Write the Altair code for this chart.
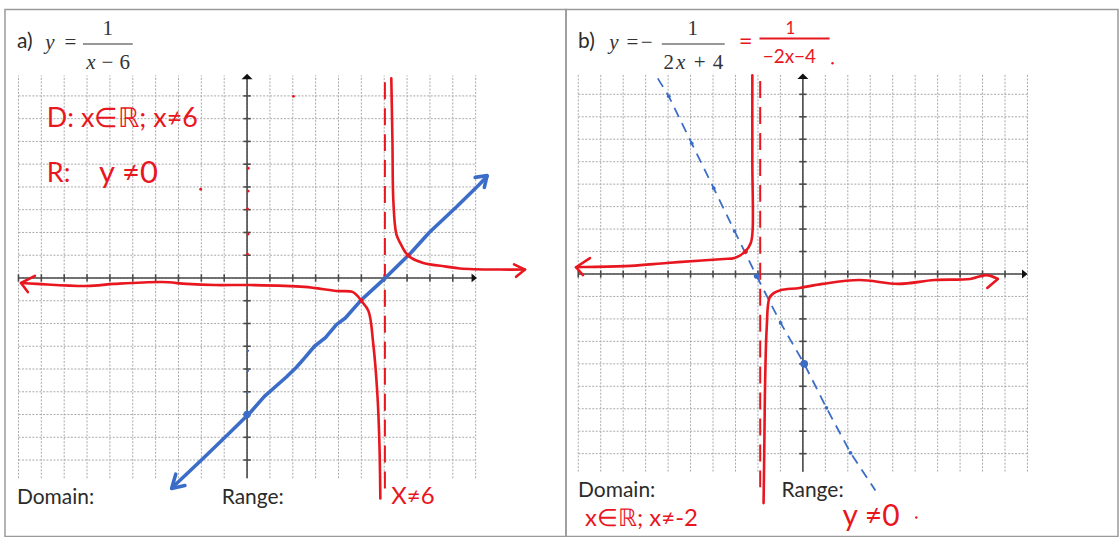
import altair as alt
import pandas as pd

# ---------- scale domains of the two worksheet panels (graph units) ----------
A_XDOM = [-10.59, 13.952]
A_YDOM = [-11.36, 11.798]
B_XDOM = [-10.547, 14.031]
B_YDOM = [-11.689, 11.778]
A_W, B_W, H = 562, 553, 528

# ---------- grid paper ----------
GRID_X = list(range(-10, 11))
GRID_Y = list(range(-8, 9))
GRID_TOP, GRID_BOTTOM = 8.9, -8.8
TICK_X = [v for v in range(-10, 10) if v != 0]
TICK_Y = [v for v in range(-8, 9) if v != 0]

RED = "#e8171f"
BLUE = "#3b6dc8"
GRID = "#aaaaaa"
AXIS = "#4a4a4a"
INK = "#2b2b2b"

# ---------- panel a: y = 1/(x-6), sketched with y = x - 6 ----------
A_BLUE_X = [-3.21, -2.03, -0.76, 0.15, 0.76, 1.72, 2.16, 2.51, 2.95, 3.43, 3.91, 4.30, 5.00, 6.09, 7.18, 7.97, 9.19, 10.15, 10.50]
A_BLUE_Y = [-9.15, -8.03, -6.80, -5.90, -5.20, -4.35, -3.92, -3.52, -3.00, -2.62, -2.05, -1.76, -0.96, 0.04, 1.12, 2.00, 3.15, 4.10, 4.47]
A_BLUE_HEAD_LO_X = [-3.12, -3.30, -2.72]
A_BLUE_HEAD_LO_Y = [-8.62, -9.25, -9.12]
A_BLUE_HEAD_HI_X = [9.98, 10.50, 10.38]
A_BLUE_HEAD_HI_Y = [4.42, 4.50, 3.98]

A_RED_RIGHT_X = [6.31, 6.36, 6.40, 6.53, 6.72, 6.95, 7.18, 7.71, 8.71, 9.32, 11.07, 12.16]
A_RED_RIGHT_Y = [8.77, 6.00, 3.38, 1.93, 1.50, 1.10, 0.88, 0.66, 0.50, 0.42, 0.37, 0.37]
A_RED_LEFT_X = [-9.89, -9.19, -7.00, -5.79, -3.73, -2.64, -1.42, 0.15, 2.51, 3.91, 4.61, 4.83, 5.00, 5.31, 5.52, 5.70, 5.79, 5.83]
A_RED_LEFT_Y = [-0.22, -0.26, -0.35, -0.26, -0.18, -0.26, -0.31, -0.31, -0.39, -0.57, -0.61, -0.79, -1.01, -1.45, -2.89, -5.09, -7.28, -9.69]
A_RED_HEAD_L_X = [-9.28, -9.89, -9.59]
A_RED_HEAD_L_Y = [0.09, -0.22, -0.62]
A_RED_HEAD_R_X = [11.68, 12.16, 11.77]
A_RED_HEAD_R_Y = [0.60, 0.37, 0.05]
A_ASYMPTOTE_X = 6.03
A_ASYMPTOTE_Y = [-9.25, 8.77]

A_BLUE_DOT = (0.0, -6.0)
A_RED_DOTS_X = [7.05, 5.00]
A_RED_DOTS_Y = [1.00, -1.00]
A_RED_SPECKS_X = [2.03, -2.03, 0.05, 0.05, 0.02, 0.05, 0.02]
A_RED_SPECKS_Y = [7.98, 3.90, 4.82, 3.82, 3.03, 1.93, 1.05]
A_BLUE_SPECKS_X = [0.05, 0.05, 0.02]
A_BLUE_SPECKS_Y = [-3.20, -4.08, -5.04]

# ---------- panel b: y = -1/(2x+4), sketched with y = -2x - 4 ----------
B_BLUE_X = [-6.46, -5.97, -4.95, -3.97, -3.04, -2.06, -0.99, 0.06, 1.05, 2.12, 3.23]
B_BLUE_Y = [8.71, 7.91, 5.82, 3.82, 1.91, -0.09, -2.18, -4.00, -5.96, -7.96, -9.64]
B_BLUE_DOTS_X = [-5.97, -4.95, -3.97, -3.04, -0.99, 1.05, 2.12]
B_BLUE_DOTS_Y = [7.91, 5.82, 3.82, 1.91, -2.18, -5.96, -7.96]
B_MID_DOT = (-2.06, -0.09)
B_BIG_DOT = (0.06, -4.00)

B_RED_LEFT_X = [-2.25, -2.25, -2.24, -2.32, -2.55, -3.04, -3.52, -4.50, -6.06, -7.66, -9.70, -10.10]
B_RED_LEFT_Y = [8.85, 5.00, 1.91, 1.38, 1.02, 0.71, 0.67, 0.60, 0.49, 0.36, 0.31, 0.30]
B_RED_RIGHT_X = [-1.75, -1.72, -1.69, -1.61, -1.49, -1.30, -1.00, -0.15, 0.87, 2.52, 4.25, 5.85, 7.45, 8.17, 8.68]
B_RED_RIGHT_Y = [-10.20, -8.00, -5.33, -2.40, -1.07, -0.85, -0.72, -0.62, -0.44, -0.27, -0.44, -0.27, -0.22, -0.05, -0.22]
B_RED_HEAD_L_X = [-9.48, -10.10, -9.79]
B_RED_HEAD_L_Y = [0.71, 0.30, -0.05]
B_RED_HEAD_R_X = [8.68, 8.21]
B_RED_HEAD_R_Y = [-0.22, -0.62]
B_ASYMPTOTE_X = -1.90
B_ASYMPTOTE_Y = [-9.50, 8.80]
B_RED_DOTS_X = [-2.55]
B_RED_DOTS_Y = [1.00]
B_RED_SPECKS_X = [1.32, 5.05]
B_RED_SPECKS_Y = [9.38, -10.84]


def scales(xdom, ydom):
    return (
        alt.Scale(domain=xdom, nice=False, zero=False),
        alt.Scale(domain=ydom, nice=False, zero=False),
    )


def xy(xdom, ydom):
    sx, sy = scales(xdom, ydom)
    return dict(
        x=alt.X("x:Q", scale=sx, axis=None),
        y=alt.Y("y:Q", scale=sy, axis=None),
    )


def rules(df, xdom, ydom, **mark):
    enc = xy(xdom, ydom)
    if "x2" in df.columns:
        enc["x2"] = "x2:Q"
    if "y2" in df.columns:
        enc["y2"] = "y2:Q"
    return alt.Chart(df).mark_rule(**mark).encode(**enc)


def poly(groups):
    rows = []
    for name, (xs, ys) in groups.items():
        for k, (px, py) in enumerate(zip(xs, ys)):
            rows.append({"g": name, "i": k, "x": px, "y": py})
    return pd.DataFrame(rows)


def lines(groups, xdom, ydom, **mark):
    return alt.Chart(poly(groups)).mark_line(**mark).encode(
        **xy(xdom, ydom), detail="g:N", order="i:Q"
    )


def dots(xs, ys, xdom, ydom, **mark):
    df = pd.DataFrame({"x": xs, "y": ys})
    return alt.Chart(df).mark_point(filled=True, opacity=1, **mark).encode(**xy(xdom, ydom))


def texts(items, xdom, ydom, **mark):
    df = pd.DataFrame(items, columns=["t", "x", "y"])
    return alt.Chart(df).mark_text(**mark).encode(**xy(xdom, ydom), text="t:N")


def graph_paper(xdom, ydom, arrow_x, arrow_y):
    n, m = len(GRID_X), len(GRID_Y)
    vert = pd.DataFrame({"x": GRID_X, "y": [GRID_BOTTOM] * n, "y2": [GRID_TOP] * n})
    horiz = pd.DataFrame({"x": [-10] * m, "x2": [10] * m, "y": GRID_Y})
    axes = pd.DataFrame({"x": [-10, 0], "x2": [arrow_x, 0], "y": [0, GRID_BOTTOM], "y2": [0, arrow_y]})
    tx = pd.DataFrame({"x": TICK_X, "y": [-0.16] * len(TICK_X), "y2": [0.16] * len(TICK_X)})
    ty = pd.DataFrame({"x": [-0.16] * len(TICK_Y), "x2": [0.16] * len(TICK_Y), "y": TICK_Y})
    return [
        rules(vert, xdom, ydom, color=GRID, strokeWidth=1, strokeDash=[2, 1.5]),
        rules(horiz, xdom, ydom, color=GRID, strokeWidth=1, strokeDash=[2, 1.5]),
        rules(axes, xdom, ydom, color=AXIS, strokeWidth=1.6),
        rules(tx, xdom, ydom, color=AXIS, strokeWidth=1.6),
        rules(ty, xdom, ydom, color=AXIS, strokeWidth=1.6),
        dots([0], [arrow_y], xdom, ydom, color="#111", size=121,
             shape="M-1,0.5L0,-0.5L1,0.5Z"),
        dots([arrow_x], [0], xdom, ydom, color="#111", size=121,
             shape="M-0.5,-0.8L0.5,0L-0.5,0.8Z"),
    ]


SERIF = dict(font="Liberation Serif", fontSize=21, color="#333", align="center",
             baseline="alphabetic")
LABEL = dict(font="Lato", fontSize=21, color=INK, align="left", baseline="alphabetic")

# ---------------- panel a ----------------
ax, ay = A_XDOM, A_YDOM
panel_a_layers = graph_paper(ax, ay, 9.94, 8.85) + [
    rules(pd.DataFrame({"x": [A_ASYMPTOTE_X], "y": [A_ASYMPTOTE_Y[0]], "y2": [A_ASYMPTOTE_Y[1]]}),
          ax, ay, color=RED, strokeWidth=2, strokeDash=[17, 9]),
    lines({"line": (A_BLUE_X, A_BLUE_Y), "lo": (A_BLUE_HEAD_LO_X, A_BLUE_HEAD_LO_Y),
           "hi": (A_BLUE_HEAD_HI_X, A_BLUE_HEAD_HI_Y)},
          ax, ay, color=BLUE, strokeWidth=3.6, strokeCap="round", strokeJoin="round"),
    lines({"right": (A_RED_RIGHT_X, A_RED_RIGHT_Y), "left": (A_RED_LEFT_X, A_RED_LEFT_Y)},
          ax, ay, color=RED, strokeWidth=2.6, interpolate="catmull-rom",
          strokeCap="round", strokeJoin="round"),
    lines({"hl": (A_RED_HEAD_L_X, A_RED_HEAD_L_Y), "hr": (A_RED_HEAD_R_X, A_RED_HEAD_R_Y)},
          ax, ay, color=RED, strokeWidth=2.6, strokeCap="round", strokeJoin="round"),
    dots([A_BLUE_DOT[0]], [A_BLUE_DOT[1]], ax, ay, color=BLUE, size=55, shape="circle"),
    dots(A_RED_DOTS_X, A_RED_DOTS_Y, ax, ay, color=RED, size=22, shape="circle"),
    dots(A_RED_SPECKS_X, A_RED_SPECKS_Y, ax, ay, color=RED, size=8, shape="circle"),
    dots(A_BLUE_SPECKS_X, A_BLUE_SPECKS_Y, ax, ay, color=BLUE, size=4, shape="circle"),
    # printed labels
    texts([("a)", -10.07, 10.09), ("Domain:", -10.07, -9.91), ("Range:", -1.11, -9.91)],
          ax, ay, **LABEL),
    texts([("=", -7.73, 10.04), ("1", -6.09, 10.68), ("−", -6.11, 9.17), ("6", -5.35, 9.17)],
          ax, ay, **SERIF),
    texts([("y", -8.62, 10.04), ("x", -6.83, 9.17)], ax, ay, fontStyle="italic", **SERIF),
    rules(pd.DataFrame({"x": [-7.18], "x2": [-5.0], "y": [10.28]}), ax, ay,
          color="#333", strokeWidth=1.2),
    # handwritten notes
    texts([("D: x∈ℝ; x≠6", -8.76, 6.97), ("R:", -8.76, 4.56)],
          ax, ay, font="Lato", fontSize=27, color=RED, align="left", baseline="middle"),
    texts([("y ≠0", -6.48, 4.56)],
          ax, ay, font="Lato", fontSize=31, color=RED, align="left", baseline="middle"),
    texts([("X≠6", 6.31, -9.61)],
          ax, ay, font="Lato", fontSize=24, color=RED, align="left", baseline="middle"),
]
panel_a = alt.layer(*panel_a_layers).properties(width=A_W, height=H)

# ---------------- panel b ----------------
bx, by = B_XDOM, B_YDOM
panel_b_layers = graph_paper(bx, by, 9.88, 8.80) + [
    rules(pd.DataFrame({"x": [B_ASYMPTOTE_X], "y": [B_ASYMPTOTE_Y[0]], "y2": [B_ASYMPTOTE_Y[1]]}),
          bx, by, color=RED, strokeWidth=2, strokeDash=[17, 9]),
    lines({"line": (B_BLUE_X, B_BLUE_Y)}, bx, by, color=BLUE, strokeWidth=1.8,
          strokeDash=[10, 7]),
    dots(B_BLUE_DOTS_X, B_BLUE_DOTS_Y, bx, by, color=BLUE, size=14, shape="circle"),
    dots([B_MID_DOT[0]], [B_MID_DOT[1]], bx, by, color=BLUE, size=32, shape="circle"),
    dots([B_BIG_DOT[0]], [B_BIG_DOT[1]], bx, by, color=BLUE, size=60, shape="circle"),
    lines({"left": (B_RED_LEFT_X, B_RED_LEFT_Y), "right": (B_RED_RIGHT_X, B_RED_RIGHT_Y)},
          bx, by, color=RED, strokeWidth=2.6, interpolate="catmull-rom",
          strokeCap="round", strokeJoin="round"),
    lines({"hl": (B_RED_HEAD_L_X, B_RED_HEAD_L_Y), "hr": (B_RED_HEAD_R_X, B_RED_HEAD_R_Y)},
          bx, by, color=RED, strokeWidth=2.6, strokeCap="round", strokeJoin="round"),
    dots(B_RED_DOTS_X, B_RED_DOTS_Y, bx, by, color=RED, size=22, shape="circle"),
    dots(B_RED_SPECKS_X, B_RED_SPECKS_Y, bx, by, color=RED, size=6, shape="circle"),
    # printed labels
    texts([("b)", -10.01, 10.04), ("Domain:", -10.01, -9.91), ("Range:", -0.95, -9.91)],
          bx, by, **LABEL),
    texts([("=", -7.59, 10.0), ("−", -6.95, 10.0), ("1", -4.90, 10.64), ("2", -5.97, 9.11),
           ("+", -4.60, 9.11), ("4", -3.78, 9.11)], bx, by, **SERIF),
    texts([("y", -8.41, 10.0), ("x", -5.44, 9.11)], bx, by, fontStyle="italic", **SERIF),
    rules(pd.DataFrame({"x": [-6.28], "x2": [-3.48], "y": [10.24]}), bx, by,
          color="#333", strokeWidth=1.2),
    # handwritten notes
    texts([("=", -2.55, 10.31)], bx, by, font="Lato", fontSize=24, color=RED,
          align="center", baseline="middle"),
    texts([("1", -0.55, 10.89)], bx, by, font="Lato", fontSize=17, color=RED,
          align="center", baseline="middle"),
    texts([("−2x−4", -0.60, 9.64)], bx, by, font="Lato", fontSize=19, color=RED,
          align="center", baseline="middle"),
    rules(pd.DataFrame({"x": [-1.93], "x2": [1.19], "y": [10.49]}), bx, by,
          color=RED, strokeWidth=2),
    texts([("x∈ℝ; x≠-2", -9.70, -10.90)], bx, by, font="Lato", fontSize=24, color=RED,
          align="left", baseline="middle"),
    texts([("y ≠0", 1.76, -10.84)], bx, by, font="Lato", fontSize=30, color=RED,
          align="left", baseline="middle"),
]
panel_b = alt.layer(*panel_b_layers).properties(width=B_W, height=H)

chart = (
    alt.hconcat(panel_a, panel_b, spacing=0, bounds="flush")
    .properties(padding={"left": 4, "top": 8, "right": 0, "bottom": 1}, background="white")
    .configure_view(stroke="#9a9a9a", strokeWidth=1.5)
)

chart.save("out.html", embed_options={"renderer": "svg", "actions": False})
